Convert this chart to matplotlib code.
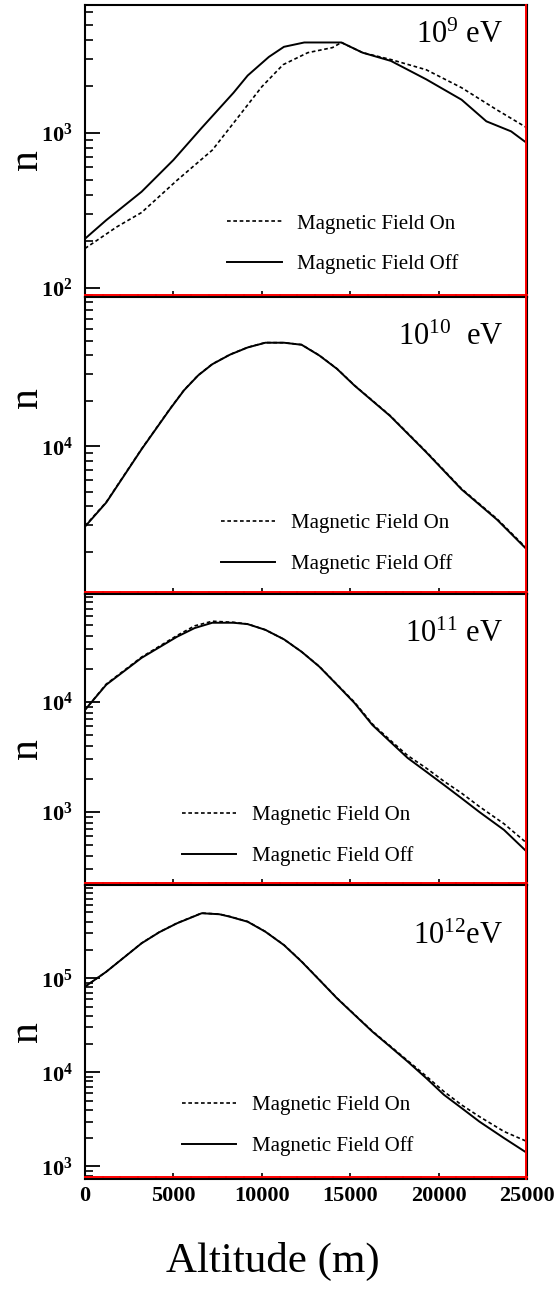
import numpy as np
import matplotlib
matplotlib.use("Agg")
import matplotlib.pyplot as plt
from matplotlib.ticker import FuncFormatter, LogLocator, MultipleLocator, NullFormatter
from matplotlib.transforms import ScaledTranslation

plt.rcParams['font.family'] = ['Liberation Serif', 'DejaVu Serif']
plt.rcParams['mathtext.fontset'] = 'custom'
plt.rcParams['mathtext.rm'] = 'Liberation Serif'
plt.rcParams['mathtext.it'] = 'Liberation Serif:italic'
plt.rcParams['mathtext.bf'] = 'Liberation Serif:bold'

# shower size n vs altitude, four primary energies
# 1e9 eV
alt_9_off = [0, 1200, 3200, 5000, 6600, 8400, 9200, 10400, 11250, 12400, 14500, 15700, 17300, 19300, 21300, 22700, 24100, 25000]
n_9_off = [208, 274, 418, 670, 1080, 1820, 2350, 3100, 3600, 3840, 3840, 3300, 2920, 2220, 1640, 1190, 1025, 860]
alt_9_on = [0, 1800, 3200, 5200, 7200, 8400, 10000, 11200, 12600, 14000, 14500, 15700, 17300, 19300, 21300, 23300, 25000]
n_9_on = [180, 248, 307, 495, 776, 1160, 1990, 2760, 3300, 3560, 3840, 3300, 2980, 2560, 1960, 1410, 1080]

# 1e10 eV
alt_10_off = [0, 1200, 3200, 4800, 5600, 6400, 7200, 8200, 9200, 10200, 11250, 12250, 13250, 14250, 15250, 17250, 19300, 21300, 23300, 25000]
n_10_off = [2930, 4230, 9550, 17600, 23500, 29500, 35000, 40500, 45200, 48600, 48600, 47100, 40000, 32600, 25200, 15900, 9120, 5170, 3260, 2060]
alt_10_on = [0, 1200, 3200, 4800, 5600, 6400, 7200, 8200, 9200, 10200, 11250, 12250, 13250, 14250, 15250, 17250, 19300, 21300, 23300, 25000]
n_10_on = [2960, 4260, 9600, 17700, 23600, 29600, 35100, 40600, 45300, 48700, 48600, 47200, 40100, 32700, 25300, 16000, 9200, 5220, 3300, 2090]

# 1e11 eV
alt_11_off = [0, 1200, 3200, 5200, 6200, 7200, 8400, 9200, 10200, 11250, 12250, 13250, 14250, 15250, 16250, 17250, 18250, 19300, 20300, 21300, 22300, 23700, 25000]
n_11_off = [8460, 14300, 25100, 39000, 46800, 52300, 52300, 50800, 45100, 37000, 28500, 20900, 14300, 9730, 6170, 4360, 3090, 2320, 1760, 1330, 1000, 686, 433]
alt_11_on = [0, 1200, 3200, 5200, 6200, 7200, 8400, 9200, 10200, 11250, 12250, 13250, 14250, 15250, 16250, 17250, 18250, 19300, 20300, 21300, 22300, 23700, 25000]
n_11_on = [8460, 14500, 25500, 40000, 49000, 54000, 52800, 51000, 45100, 37000, 28500, 21000, 14400, 9900, 6300, 4500, 3250, 2500, 1900, 1480, 1120, 780, 519]

# 1e12 eV
alt_12_off = [0, 1200, 3200, 4200, 5200, 6600, 7600, 8200, 9200, 10200, 11250, 12250, 13250, 14250, 15250, 16250, 17250, 18250, 19300, 20300, 21300, 22300, 23700, 25000]
n_12_off = [81300, 117000, 235000, 308000, 383000, 490000, 478000, 450000, 398000, 312000, 225000, 150000, 96000, 61200, 40700, 27100, 18800, 13000, 8670, 5770, 4170, 3000, 2000, 1390]
alt_12_on = [0, 1200, 3200, 4200, 5200, 6600, 7600, 8200, 9200, 10200, 11250, 12250, 13250, 14250, 15250, 16250, 17250, 18250, 19300, 20300, 21300, 22300, 23700, 25000]
n_12_on = [81300, 117000, 236000, 309000, 385000, 492000, 480000, 452000, 400000, 313000, 226000, 151000, 96500, 61600, 41000, 27400, 19100, 13300, 9100, 6250, 4500, 3390, 2350, 1840]

energy_labels = [r'$\mathregular{10^{9}}$ eV', r'$\mathregular{10^{10}}$  eV',
                 r'$\mathregular{10^{11}}$ eV', r'$\mathregular{10^{12}}$eV']
x_ticks = [0, 5000, 10000, 15000, 20000, 25000]

panels = [
    (alt_9_on, n_9_on, alt_9_off, n_9_off),
    (alt_10_on, n_10_on, alt_10_off, n_10_off),
    (alt_11_on, n_11_on, alt_11_off, n_11_off),
    (alt_12_on, n_12_on, alt_12_off, n_12_off),
]

# layout (log10 limits, label and legend placement per panel)
ylims = [(1.942, 3.826), (3.02, 4.99), (2.336, 4.98), (2.866, 5.99)]
axes_y = [(0.7696, 0.2265), (0.5392, 0.2304), (0.3134, 0.2258), (0.0853, 0.2281)]
label_pos = [(0.946, 0.897), (0.946, 0.865), (0.946, 0.862), (0.946, 0.826)]
legend_pos = [(0.322, 0.284), (0.308, 0.27), (0.22, 0.273), (0.22, 0.283)]
ylabel_y = [0.47, 0.663, 0.47, 0.50]

fig = plt.figure(figsize=(5.56, 12.89), dpi=100)

for i, (xon, non, xoff, noff) in enumerate(panels):
    ax = fig.add_axes([0.1529, axes_y[i][0], 0.795, axes_y[i][1]])
    ax.plot(xon, non, color='black', lw=1.2, ls=(0, (2.2, 1.6)), label='Magnetic Field On')
    ax.plot(xoff, noff, color='black', lw=1.4, label='Magnetic Field Off')

    ax.set_yscale('log')
    ax.set_xlim(0, 25000)
    ax.set_ylim(10 ** ylims[i][0], 10 ** ylims[i][1])

    ax.yaxis.set_major_locator(LogLocator(base=10))
    ax.yaxis.set_minor_locator(LogLocator(base=10, subs=np.arange(2, 10)))
    ax.yaxis.set_major_formatter(FuncFormatter(lambda v, p: r'$\mathbf{10^{%d}}$' % round(np.log10(v))))
    ax.yaxis.set_minor_formatter(NullFormatter())
    ax.tick_params(axis='y', which='major', direction='in', length=10.5, width=1.3,
                   labelsize=16, pad=9, right=False)
    ax.tick_params(axis='y', which='minor', direction='in', length=6, width=1.2, right=False)

    ax.set_xticks(x_ticks)
    ax.xaxis.set_minor_locator(MultipleLocator(1000))
    ax.tick_params(axis='x', which='major', direction='in', length=4.5, width=1.2, top=False)
    ax.tick_params(axis='x', which='minor', direction='in', length=2.4, width=1.1, top=False)
    if i == 3:
        ax.set_xticklabels([str(t) for t in x_ticks], fontweight='bold', fontsize=16)
        ax.tick_params(axis='x', which='major', pad=5)
    else:
        ax.set_xticklabels([])

    for s in ax.spines.values():
        s.set_color('black')
        s.set_linewidth(1.5)

    # red lines along bottom and right edges
    up = ax.transAxes + ScaledTranslation(0, 1.3 / 72, fig.dpi_scale_trans)
    ax.plot([0, 1], [0, 0], transform=up, color='red', lw=1.4, clip_on=False, zorder=6)
    left = ax.transAxes + ScaledTranslation(-1.1 / 72, 0, fig.dpi_scale_trans)
    ax.plot([1, 1], [0, 1], transform=left, color='red', lw=1.4, clip_on=False, zorder=6)

    ax.set_ylabel('n', fontsize=30)
    ax.yaxis.set_label_coords(-0.088, ylabel_y[i])

    ax.text(label_pos[i][0], label_pos[i][1], energy_labels[i], transform=ax.transAxes,
            ha='right', va='center', fontsize=22)

    ax.legend(loc='upper left', bbox_to_anchor=legend_pos[i], frameon=False,
              prop={'family': 'Liberation Serif', 'size': 15},
              handlelength=2.6, handletextpad=0.75, labelspacing=1.0,
              borderpad=0, borderaxespad=0)

fig.text(0.491, 0.021, 'Altitude (m)', ha='center', va='center', fontsize=31)

fig.savefig('out.png', dpi=100)
